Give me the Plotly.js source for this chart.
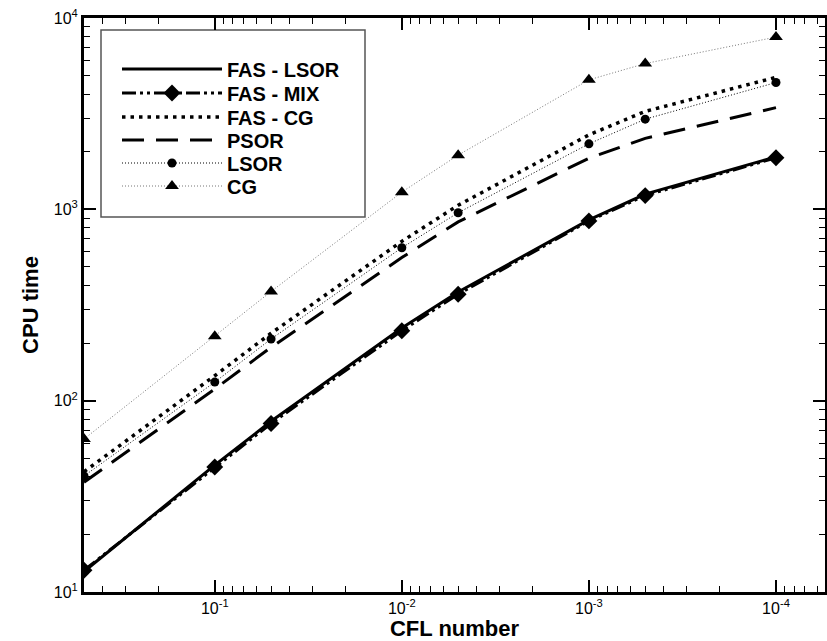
<!DOCTYPE html>
<html>
<head>
<meta charset="utf-8">
<script src="https://cdn.plot.ly/plotly-3.0.1.min.js"></script>
<style>html,body{margin:0;padding:0;background:#fff;}#chart{width:827px;height:641px;}</style>
</head>
<body>
<div id="chart"></div>
<script>
// CFL numbers (x), decreasing to the right
const cfl = [0.5, 0.1, 0.05, 0.01, 0.005, 0.001, 0.0005, 0.0001];

// CPU time for each solver
const fasLsor = [12.8, 46, 78, 240, 370, 880, 1200, 1880];
const fasMix  = [13.0, 45, 76, 232, 360, 870, 1180, 1860];
const fasCg   = [42.5, 135, 225, 680, 1050, 2450, 3250, 4900];
const psor    = [37.5, 115, 190, 560, 860, 1850, 2350, 3400];
const lsor    = [40.4, 125, 210, 630, 960, 2200, 2960, 4600];
const cg      = [63, 217, 372, 1230, 1920, 4750, 5780, 7950];

const names = ["FAS - LSOR", "FAS - MIX", "FAS - CG", "PSOR", "LSOR", "CG"];

// tick labels
const xTickVals = [0.1, 0.01, 0.001, 0.0001];
const xTickText = ["10<sup>-1</sup>", "10<sup>-2</sup>", "10<sup>-3</sup>", "10<sup>-4</sup>"];
const yTickVals = [10, 100, 1000, 10000];
const yTickText = ["10<sup>1</sup>", "10<sup>2</sup>", "10<sup>3</sup>", "10<sup>4</sup>"];

const xMinor = [0.4, 0.3, 0.2,
  0.09, 0.08, 0.07, 0.06, 0.05, 0.04, 0.03, 0.02,
  0.009, 0.008, 0.007, 0.006, 0.005, 0.004, 0.003, 0.002,
  0.0009, 0.0008, 0.0007, 0.0006, 0.0005, 0.0004, 0.0003, 0.0002,
  0.00009, 0.00008, 0.00007, 0.00006];
const yMinor = [20, 30, 40, 50, 60, 70, 80, 90,
  200, 300, 400, 500, 600, 700, 800, 900,
  2000, 3000, 4000, 5000, 6000, 7000, 8000, 9000];

const FONT = "Liberation Sans, Arial, Helvetica, sans-serif";

const traces = [
  {x: cfl, y: fasLsor, name: names[0], mode: "lines", legend: "legend",
   line: {color: "#000", width: 3}},
  {x: cfl, y: fasMix, name: names[1], mode: "lines+markers", legend: "legend2",
   line: {color: "#000", width: 3, dash: "14px,4px,3px,4px,3px,4px"},
   marker: {symbol: "diamond", size: 13, color: "#000"}},
  {x: cfl, y: fasCg, name: names[2], mode: "lines", legend: "legend3",
   line: {color: "#000", width: 3.5, dash: "3.5px,5px"}},
  {x: cfl, y: psor, name: names[3], mode: "lines", legend: "legend4",
   line: {color: "#000", width: 3, dash: "22px,12px"}},
  {x: cfl, y: lsor, name: names[4], mode: "lines+markers", legend: "legend5",
   line: {color: "#000", width: 1, dash: "1px,2px"},
   marker: {symbol: "circle", size: 9, color: "#000"}},
  {x: cfl, y: cg, name: names[5], mode: "lines+markers", legend: "legend6",
   line: {color: "#777", width: 1, dash: "1px,2px"},
   marker: {symbol: "triangle-up", size: 12, color: "#000"}}
];

const plotL = 84, plotR = 825, plotT = 18, plotB = 592;
const pw = plotR - plotL, ph = plotB - plotT;
const rowY = [69, 93, 117, 140, 163, 186];
const legX = (117 - plotL) / pw;

function mkLegend(py) {
  return {
    x: legX, xanchor: "left", y: (plotB - py) / ph, yanchor: "middle",
    bgcolor: "rgba(0,0,0,0)", borderwidth: 0, itemwidth: 100,
    font: {family: FONT, size: 20, color: "#000", weight: "bold"},
    itemclick: false, itemdoubleclick: false
  };
}

const layout = {
  width: 827, height: 641,
  margin: {l: plotL, r: 827 - plotR, t: plotT, b: 641 - plotB, pad: 0},
  paper_bgcolor: "#fff", plot_bgcolor: "#fff",
  font: {family: FONT, size: 16, color: "#000"},
  showlegend: true,
  legend: mkLegend(rowY[0]),
  legend2: mkLegend(rowY[1]),
  legend3: mkLegend(rowY[2]),
  legend4: mkLegend(rowY[3]),
  legend5: mkLegend(rowY[4]),
  legend6: mkLegend(rowY[5]),
  xaxis: {
    type: "log", range: [Math.log10(0.5), Math.log10(5.47e-5)],
    showgrid: false, zeroline: false,
    showline: true, linecolor: "#000", linewidth: 3, mirror: "ticks",
    ticks: "inside", ticklen: 12, tickwidth: 2, tickcolor: "#000",
    tickmode: "array", tickvals: xTickVals, ticktext: xTickText,
    tickfont: {family: FONT, size: 16, color: "#000"},
    minor: {tickmode: "array", tickvals: xMinor, ticks: "inside", ticklen: 6, tickwidth: 1, tickcolor: "#000", showgrid: false},
    title: {text: "CFL number", font: {family: FONT, size: 22, color: "#000", weight: "bold"}, standoff: 3},
    automargin: false
  },
  yaxis: {
    type: "log", range: [1, 4],
    showgrid: false, zeroline: false,
    showline: true, linecolor: "#000", linewidth: 3, mirror: "ticks",
    ticks: "inside", ticklen: 12, tickwidth: 2, tickcolor: "#000",
    tickmode: "array", tickvals: yTickVals, ticktext: yTickText,
    tickfont: {family: FONT, size: 16, color: "#000"},
    minor: {tickmode: "array", tickvals: yMinor, ticks: "inside", ticklen: 6, tickwidth: 1, tickcolor: "#000", showgrid: false},
    title: {text: "CPU time", font: {family: FONT, size: 22, color: "#000", weight: "bold"}, standoff: 10},
    automargin: false
  },
  shapes: [{
    type: "rect", xref: "paper", yref: "paper", layer: "below",
    x0: (101 - plotL) / pw, x1: (365 - plotL) / pw,
    y0: (plotB - 217) / ph, y1: (plotB - 30) / ph,
    line: {color: "#555", width: 1.5}, fillcolor: "#fff"
  }]
};

Plotly.newPlot("chart", traces, layout, {staticPlot: true, displayModeBar: false});
</script>
</body>
</html>
